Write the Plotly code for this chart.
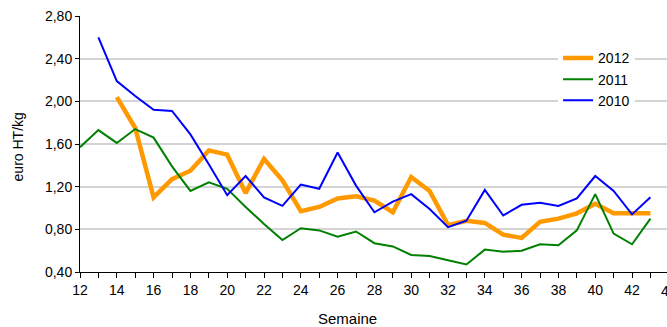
import plotly.graph_objects as go

weeks_2012 = list(range(14, 44))
price_2012 = [2.04, 1.75, 1.10, 1.27, 1.35, 1.54, 1.50, 1.14, 1.46, 1.26,
              0.97, 1.01, 1.09, 1.11, 1.07, 0.96, 1.29, 1.16, 0.84, 0.88,
              0.86, 0.75, 0.72, 0.87, 0.90, 0.95, 1.04, 0.95, 0.95, 0.95]

weeks_2011 = list(range(12, 44))
price_2011 = [1.57, 1.73, 1.61, 1.74, 1.66, 1.39, 1.16, 1.24, 1.18, 1.01,
              0.85, 0.70, 0.81, 0.79, 0.73, 0.78, 0.67, 0.64, 0.56, 0.55,
              0.51, 0.47, 0.61, 0.59, 0.60, 0.66, 0.65, 0.79, 1.13, 0.76,
              0.66, 0.90]

weeks_2010 = list(range(13, 44))
price_2010 = [2.60, 2.19, 2.05, 1.92, 1.91, 1.69, 1.41, 1.12, 1.30, 1.10,
              1.02, 1.22, 1.18, 1.52, 1.21, 0.96, 1.06, 1.13, 0.99, 0.82,
              0.88, 1.17, 0.93, 1.03, 1.05, 1.02, 1.09, 1.30, 1.16, 0.94,
              1.10]

FONT = "Liberation Sans, Arial, sans-serif"

fig = go.Figure()
fig.add_trace(go.Scatter(x=weeks_2012, y=price_2012, mode="lines", name="2012",
                         line=dict(color="#FF9900", width=4.5)))
fig.add_trace(go.Scatter(x=weeks_2011, y=price_2011, mode="lines", name="2011",
                         line=dict(color="#008000", width=2)))
fig.add_trace(go.Scatter(x=weeks_2010, y=price_2010, mode="lines", name="2010",
                         line=dict(color="#0000FF", width=2)))

fig.update_layout(
    width=667, height=327,
    margin=dict(l=80, r=0, t=16, b=55),
    paper_bgcolor="white", plot_bgcolor="white",
    font=dict(family=FONT, size=14, color="#000"),
    separators=",.",
    showlegend=True,
    legend=dict(x=0.8144, y=0.897, xanchor="left", yanchor="top",
                bgcolor="white", borderwidth=0, font=dict(size=14),
                tracegroupgap=0),
    xaxis=dict(range=[12, 43.9], dtick=2, tick0=12, showgrid=False,
               showline=True, linecolor="#000", linewidth=1,
               ticks="outside", ticklen=5, tickcolor="#000",
               minor=dict(dtick=1, tick0=12, ticks="outside", ticklen=5,
                          tickcolor="#000", showgrid=False),
               zeroline=False, tickfont=dict(size=14)),
    yaxis=dict(range=[0.4, 2.8], dtick=0.4, tick0=0.4, tickformat=".2f",
               showgrid=True, gridcolor="#d4d4d4", gridwidth=2,
               showline=True, linecolor="#000", linewidth=1,
               ticks="outside", ticklen=4, tickcolor="#000",
               zeroline=False, tickfont=dict(size=14)),
)

fig.add_annotation(x=1 + 2 / 587, y=-0.074, xref="paper", yref="paper", text="44",
                   showarrow=False, yanchor="middle", xanchor="center",
                   font=dict(size=14))
fig.add_annotation(x=0.455, y=-0.182, xref="paper", yref="paper", text="Semaine",
                   showarrow=False, yanchor="middle", xanchor="center",
                   font=dict(size=15))
fig.add_annotation(x=-0.105, y=0.488, xref="paper", yref="paper", text="euro HT/kg",
                   showarrow=False, textangle=-90, yanchor="middle", xanchor="center",
                   font=dict(size=14))

fig.write_html("out.html",
               config={"displayModeBar": False},
               post_script="document.body.style.margin='0';"
                           "document.body.style.overflow='hidden';")
